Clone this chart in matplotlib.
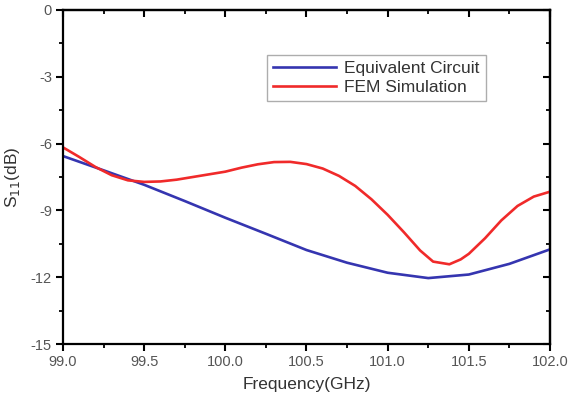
import numpy as np
import matplotlib.pyplot as plt
from matplotlib.ticker import MultipleLocator

plt.rcParams['font.family'] = ['Liberation Sans', 'DejaVu Sans']

# S11
freq_eq = [99.0, 99.25, 99.5, 99.75, 100.0, 100.25, 100.5, 100.75, 101.0,
           101.25, 101.5, 101.75, 102.0]
s11_eq = [-6.56, -7.2, -7.85, -8.58, -9.33, -10.05, -10.78, -11.35, -11.8,
          -12.04, -11.88, -11.4, -10.75]

freq_fem = [99.0, 99.1, 99.2, 99.3, 99.4, 99.5, 99.6, 99.7, 99.8, 99.9, 100.0,
            100.1, 100.2, 100.3, 100.4, 100.5, 100.6, 100.7, 100.8, 100.9, 101.0,
            101.1, 101.2, 101.28, 101.38, 101.45, 101.5, 101.6, 101.7, 101.8,
            101.9, 102.0]
s11_fem = [-6.17, -6.6, -7.05, -7.42, -7.65, -7.72, -7.7, -7.62, -7.5, -7.38,
           -7.26, -7.08, -6.93, -6.83, -6.82, -6.92, -7.12, -7.45, -7.9, -8.5,
           -9.2, -9.98, -10.8, -11.3, -11.42, -11.2, -10.95, -10.25, -9.45,
           -8.8, -8.38, -8.16]

fig = plt.figure(figsize=(5.73, 4.03), dpi=100)
ax = fig.add_axes([63/573, 1 - 344/403, (550-63)/573, (344-10)/403])

ax.plot(freq_eq, s11_eq, color='#3535b0', lw=1.9, label='Equivalent Circuit')
ax.plot(freq_fem, s11_fem, color='#f02a2a', lw=1.9, label='FEM Simulation')

ax.set_xlim(99.0, 102.0)
ax.set_ylim(-15, 0)
ax.xaxis.set_major_locator(MultipleLocator(0.5))
ax.xaxis.set_minor_locator(MultipleLocator(0.25))
ax.yaxis.set_major_locator(MultipleLocator(3))
ax.yaxis.set_minor_locator(MultipleLocator(1.5))
ax.xaxis.set_major_formatter(plt.FormatStrFormatter('%.1f'))
ax.yaxis.set_major_formatter(plt.FormatStrFormatter('%d'))

tc = '#555555'
ax.tick_params(which='major', direction='out', length=5, width=1.5,
               labelsize=10.5, labelcolor=tc, pad=3)
ax.tick_params(which='minor', direction='out', length=3, width=1.3)

# mirrored ticks pointing inward on top and right
top = ax.secondary_xaxis('top')
top.xaxis.set_major_locator(MultipleLocator(0.5))
top.xaxis.set_minor_locator(MultipleLocator(0.25))
top.tick_params(which='major', direction='in', length=5, width=1.5, labeltop=False)
top.tick_params(which='minor', direction='in', length=3, width=1.3)
right = ax.secondary_yaxis('right')
right.yaxis.set_major_locator(MultipleLocator(3))
right.yaxis.set_minor_locator(MultipleLocator(1.5))
right.tick_params(which='major', direction='in', length=5, width=1.5, labelright=False)
right.tick_params(which='minor', direction='in', length=3, width=1.3)

for s in ['top', 'bottom', 'left', 'right']:
    ax.spines[s].set_linewidth(1.6)
top.spines['top'].set_linewidth(1.6)
right.spines['right'].set_linewidth(1.6)

ax.set_xlabel('Frequency(GHz)', fontsize=12.5, color='#333333', labelpad=6)
ax.set_ylabel('S$_{11}$(dB)', fontsize=12.5, color='#333333', labelpad=6)

leg = ax.legend(loc='upper left', bbox_to_anchor=(0.419, 0.865), fontsize=12.5,
                frameon=True, fancybox=False, handlelength=3.6, borderaxespad=0,
                borderpad=0.35, labelspacing=0.2, handletextpad=0.5)
leg.get_frame().set_edgecolor('#999999')
leg.get_frame().set_linewidth(1.0)
for t in leg.get_texts():
    t.set_color('#333333')

fig.savefig('out.png', dpi=100)
